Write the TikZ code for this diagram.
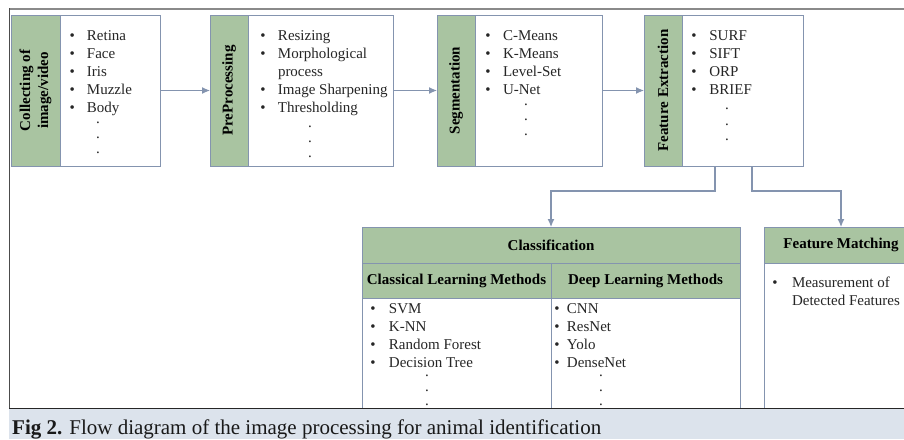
\documentclass[tikz,border=0pt]{standalone}
\usepackage{fontspec}
\setmainfont{Liberation Serif}
\usetikzlibrary{arrows.meta,calc}
\definecolor{gfill}{HTML}{A9C4A1}
\definecolor{bcol}{HTML}{8494AF}
\definecolor{capfill}{HTML}{DCE3EC}
\definecolor{txt}{HTML}{262626}
\definecolor{frametop}{HTML}{8A8A8A}
\newcommand{\li}[2]{\makebox[#1][l]{\textbullet}#2}
\tikzset{
  wbox/.style={draw=bcol, line width=1pt, fill=white, anchor=north west, inner sep=0pt, outer sep=0pt},
  gbox/.style={wbox, fill=gfill},
  vlab/.style={rotate=90, font=\fontsize{15}{18}\selectfont\bfseries, align=center, text=black, inner sep=0pt},
  hlab/.style={font=\fontsize{15}{18}\selectfont\bfseries, text=black},
  lst/.style={anchor=base west, inner sep=0pt, outer sep=0pt, font=\fontsize{15}{18}\selectfont, text=txt},
  arr/.style={draw=bcol, line width=1.1pt, -{Latex[length=8pt,width=7pt]}},
}
\begin{document}
\begin{tikzpicture}[x=1pt,y=-1pt]
\useasboundingbox (0,0) rectangle (904,439);
\clip (0,0) rectangle (904,439);
% frame
\draw[frametop, line width=2pt] (9,8.5) -- (904,8.5);
\draw[black!70, line width=0.8pt] (9,8) -- (9,408);
% box 1
\node[wbox, minimum width=149pt, minimum height=151pt] (b1) at (11,15) {};
\node[gbox, minimum width=49pt, minimum height=151pt] (g1) at (11,15) {};
\node[vlab] (l1) at (g1.center) {Collecting of\\image/video};
\node[lst] (t1) at (69.5,40.5) {\begin{tabular}[t]{@{}l@{}}
\li{17.5pt}{Retina}\\ \li{17.5pt}{Face}\\ \li{17.5pt}{Iris}\\ \li{17.5pt}{Muzzle}\\ \li{17.5pt}{Body}\\[-7pt]
\hspace*{26.6pt}.\\[-3pt] \hspace*{26.6pt}.\\[-3pt] \hspace*{26.6pt}.
\end{tabular}};
% box 2
\node[wbox, minimum width=183pt, minimum height=151pt] (b2) at (210,15) {};
\node[gbox, minimum width=38pt, minimum height=151pt] (g2) at (210,15) {};
\node[vlab] (l2) at (g2.center) {PreProcessing};
\node[lst] (t2) at (260.4,40.5) {\begin{tabular}[t]{@{}l@{}}
\li{17.6pt}{Resizing}\\ \li{17.6pt}{Morphological}\\ \hspace*{17.6pt}process\\ \li{17.6pt}{Image Sharpening}\\ \li{17.6pt}{Thresholding}\\[-3pt]
\hspace*{47.7pt}.\\[-3pt] \hspace*{47.7pt}.\\[-3pt] \hspace*{47.7pt}.
\end{tabular}};
% box 3
\node[wbox, minimum width=165pt, minimum height=151pt] (b3) at (437,15) {};
\node[gbox, minimum width=38pt, minimum height=151pt] (g3) at (437,15) {};
\node[vlab] (l3) at (g3.center) {Segmentation};
\node[lst] (t3) at (485.4,40.5) {\begin{tabular}[t]{@{}l@{}}
\li{17.6pt}{C-Means}\\ \li{17.6pt}{K-Means}\\ \li{17.6pt}{Level-Set}\\ \li{17.6pt}{U-Net}\\[-7pt]
\hspace*{38.7pt}.\\[-3.5pt] \hspace*{38.7pt}.\\[-3pt] \hspace*{38.7pt}.
\end{tabular}};
% box 4
\node[wbox, minimum width=159pt, minimum height=151pt] (b4) at (644,15) {};
\node[gbox, minimum width=38pt, minimum height=151pt] (g4) at (644,15) {};
\node[vlab] (l4) at (g4.center) {Feature Extraction};
\node[lst] (t4) at (691.4,40.5) {\begin{tabular}[t]{@{}l@{}}
\li{18pt}{SURF}\\ \li{18pt}{SIFT}\\ \li{18pt}{ORP}\\ \li{18pt}{BRIEF}\\[-3pt]
\hspace*{33.7pt}.\\[-2pt] \hspace*{33.7pt}.\\[-3pt] \hspace*{33.7pt}.
\end{tabular}};
% classification
\node[gbox, minimum width=378pt, minimum height=36pt, hlab] (cls) at (362,227) {Classification};
\node[gbox, minimum width=189pt, minimum height=35pt, hlab] (cl1) at (362,263) {Classical Learning Methods};
\node[gbox, minimum width=189pt, minimum height=35pt, hlab] (cl2) at (551,263) {Deep Learning Methods};
\node[wbox, minimum width=189pt, minimum height=130pt] (bd1) at (362,298) {};
\node[wbox, minimum width=189pt, minimum height=130pt] (bd2) at (551,298) {};
\node[lst] (t5) at (370.4,313) {\begin{tabular}[t]{@{}l@{}}
\li{18.6pt}{SVM}\\ \li{18.6pt}{K-NN}\\ \li{18.6pt}{Random Forest}\\ \li{18.6pt}{Decision Tree}\\[-8.5pt]
\hspace*{54.7pt}.\\[-3pt] \hspace*{54.7pt}.\\[-4pt] \hspace*{54.7pt}.
\end{tabular}};
\node[lst] (t6) at (554.4,313) {\begin{tabular}[t]{@{}l@{}}
\li{12.6pt}{CNN}\\ \li{12.6pt}{ResNet}\\ \li{12.6pt}{Yolo}\\ \li{12.6pt}{DenseNet}\\[-8.5pt]
\hspace*{44.7pt}.\\[-3pt] \hspace*{44.7pt}.\\[-4pt] \hspace*{44.7pt}.
\end{tabular}};
% feature matching
\node[gbox, minimum width=154pt, minimum height=36pt, hlab] (fmh) at (764,227) {Feature Matching};
\node[wbox, minimum width=154pt, minimum height=165pt] (fm) at (764,263) {};
\node[lst] (t7) at (772.4,287) {\begin{tabular}[t]{@{}l@{}}
\li{19.6pt}{Measurement of}\\ \hspace*{19.6pt}Detected Features
\end{tabular}};
% arrows
\draw[arr] (b1.east) -- (g2.west);
\draw[arr] (b2.east) -- (g3.west);
\draw[arr] (b3.east) -- (g4.west);
\draw[arr] ([xshift=-8.5pt]b4.south) -- ++(0,25) -| (cls.north);
\draw[arr] ([xshift=28.5pt]b4.south) -- ++(0,25) -| (fmh.north);
% caption
\fill[capfill] (9,408.5) rectangle (904,439);
\draw[black!85, line width=1.5pt] (9,408.5) -- (904,408.5);
\node[anchor=base west, inner sep=0pt, font=\fontsize{21}{25}\selectfont, text=black!90] (cap) at (12,434)
  {\textbf{Fig 2.} Flow diagram of the image processing for animal identification};
\end{tikzpicture}
\end{document}
